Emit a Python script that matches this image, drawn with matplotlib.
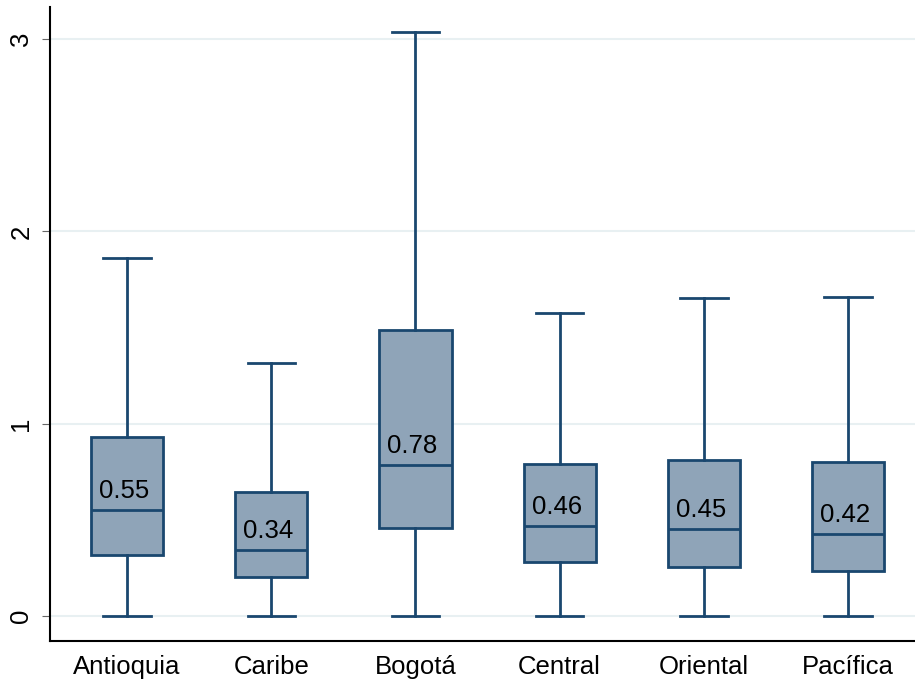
import numpy as np
import matplotlib.pyplot as plt

plt.rcParams['font.family'] = ['Liberation Sans', 'DejaVu Sans']

regiones = ['Antioquia', 'Caribe', 'Bogotá', 'Central', 'Oriental', 'Pacífica']
minimo = [0, 0, 0, 0, 0, 0]
q1 = [0.317, 0.203, 0.458, 0.281, 0.255, 0.234]
mediana = [0.551, 0.345, 0.785, 0.468, 0.452, 0.426]
q3 = [0.931, 0.645, 1.487, 0.790, 0.811, 0.801]
maximo = [1.862, 1.316, 3.037, 1.576, 1.654, 1.659]
etiquetas = ['0.55', '0.34', '0.78', '0.46', '0.45', '0.42']

azul = '#1a476f'
relleno = '#8fa4b8'

stats = []
for i in range(len(regiones)):
    stats.append({'label': regiones[i], 'whislo': minimo[i], 'q1': q1[i],
                  'med': mediana[i], 'q3': q3[i], 'whishi': maximo[i], 'fliers': []})

fig = plt.figure(figsize=(9.15, 6.81), dpi=100)
ax = fig.add_axes([50 / 915, 40 / 681, 1 - 50 / 915, 1 - 47 / 681])

pos = np.arange(len(regiones))
ax.bxp(stats, positions=pos, widths=0.5, patch_artist=True, showfliers=False,
       boxprops=dict(facecolor=relleno, edgecolor=azul, linewidth=2),
       medianprops=dict(color=azul, linewidth=2),
       whiskerprops=dict(color=azul, linewidth=2),
       capprops=dict(color=azul, linewidth=2), capwidths=0.33, zorder=3)

for i in range(len(regiones)):
    ax.text(pos[i] - 0.02, mediana[i] + 0.035, etiquetas[i], ha='center', va='bottom',
            fontsize=18.5, color='black', zorder=4)

ax.set_xlim(-0.535, 5.465)
ax.set_ylim(-0.13, 3.167)
ax.set_yticks([0, 1, 2, 3])
ax.set_yticklabels(['0', '1', '2', '3'], rotation=90, va='center')
ax.set_xticks(pos)
ax.set_xticklabels(regiones)
ax.tick_params(axis='x', length=0, labelsize=18.5, pad=10)
ax.tick_params(axis='y', length=6, color='#666666', labelsize=18.5, pad=6)
ax.grid(axis='y', color='#e8f0f2', linewidth=1.5, zorder=0)
ax.set_axisbelow(True)

for s in ['top', 'right']:
    ax.spines[s].set_visible(False)
ax.spines['left'].set_linewidth(1.5)
ax.spines['bottom'].set_linewidth(1.5)

fig.savefig('out.png', dpi=100)
